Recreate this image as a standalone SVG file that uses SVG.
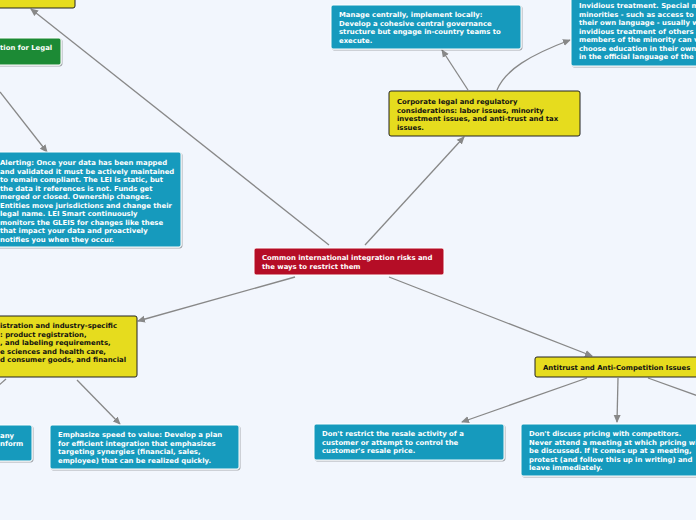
<svg xmlns="http://www.w3.org/2000/svg" width="696" height="520" viewBox="0 0 696 520">
<defs>
<marker id="ah" markerWidth="8" markerHeight="8" refX="7" refY="4" orient="auto" markerUnits="userSpaceOnUse"><path d="M0,0.5 L8,4 L0,7.5 Z" fill="#888"/></marker>
<filter id="sh" x="-5%" y="-5%" width="110%" height="120%"><feDropShadow dx="1" dy="1" stdDeviation="0.6" flood-color="#000" flood-opacity="0.3"/></filter>
</defs>
<style>
.bg{fill:#f2f6fd}
.blue{fill:#139abd;stroke:#fff;stroke-width:1;filter:url(#sh)}
.yel{fill:#e6dc1e;stroke:#222;stroke-width:1}
.grn{fill:#1e8a36;stroke:#fff;stroke-width:1;filter:url(#sh)}
.red{fill:#b50d26;stroke:#fff;stroke-width:1}
text{font-family:"DejaVu Sans",Verdana,sans-serif;font-weight:bold;font-size:6.9px}
.w{fill:#fff}.k{fill:#111}
.c{stroke:#888;stroke-width:1.3;fill:none;marker-end:url(#ah)}
.n{stroke:#888;stroke-width:1.3;fill:none}
</style>
<rect class="bg" width="696" height="520"/>
<g id="connectors">
<line class="c" x1="329" y1="245" x2="31" y2="9"/>
<line class="c" x1="0" y1="92" x2="47" y2="152"/>
<line class="c" x1="365" y1="245" x2="464" y2="137"/>
<line class="c" x1="468" y1="90" x2="442" y2="50"/>
<path class="c" d="M497,90 C505,70 530,55 570,40"/>
<line class="c" x1="295" y1="277" x2="138" y2="321"/>
<line class="n" x1="6" y1="379" x2="-2" y2="386"/>
<line class="c" x1="77" y1="380" x2="120" y2="424"/>
<line class="c" x1="389" y1="277" x2="592" y2="356"/>
<line class="c" x1="587" y1="378" x2="462" y2="422"/>
<line class="c" x1="618" y1="378" x2="617" y2="422"/>
<line class="n" x1="648" y1="378" x2="698" y2="396"/>
</g>
<g id="n-topleft"><rect class="yel" x="-10" y="-6" width="85" height="14" rx="2"/></g>
<g id="n-green"><rect class="grn" x="-10" y="38" width="71" height="27" rx="2"/><text class="w" x="0" y="50">tion for Legal</text></g>
<g id="n-alert"><rect class="blue" x="-10" y="152" width="191" height="95" rx="2"/>
<text class="w" x="0" y="165">Alerting: Once your data has been mapped</text>
<text class="w" x="0" y="173.5">and validated it must be actively maintained</text>
<text class="w" x="0" y="182">to remain compliant. The LEI is static, but</text>
<text class="w" x="0" y="190.5">the data it references is not. Funds get</text>
<text class="w" x="0" y="199">merged or closed. Ownership changes.</text>
<text class="w" x="0" y="207.5">Entities move jurisdictions and change their</text>
<text class="w" x="0" y="216">legal name. LEI Smart continuously</text>
<text class="w" x="0" y="224.5">monitors the GLEIS for changes like these</text>
<text class="w" x="0" y="233">that impact your data and proactively</text>
<text class="w" x="0" y="241.5">notifies you when they occur.</text></g>
<g id="n-center"><rect class="red" x="254" y="248" width="190" height="27" rx="2"/>
<text class="w" x="262" y="260">Common international integration risks and</text>
<text class="w" x="262" y="268.5">the ways to restrict them</text></g>
<g id="n-corp"><rect class="yel" x="389" y="91" width="191" height="45" rx="2"/>
<text class="k" x="397" y="104">Corporate legal and regulatory</text>
<text class="k" x="397" y="112.5">considerations: labor issues, minority</text>
<text class="k" x="397" y="121">investment issues, and anti-trust and tax</text>
<text class="k" x="397" y="129.5">issues.</text></g>
<g id="n-manage"><rect class="blue" x="331" y="5" width="190" height="44" rx="2"/>
<text class="w" x="339" y="17">Manage centrally, implement locally:</text>
<text class="w" x="339" y="25.5">Develop a cohesive central governance</text>
<text class="w" x="339" y="34">structure but engage in-country teams to</text>
<text class="w" x="339" y="42.5">execute.</text></g>
<g id="n-invid"><rect class="blue" x="571" y="-6" width="135" height="72" rx="2"/>
<text class="w" x="579" y="8">Invidious treatment. Special measures for</text>
<text class="w" x="579" y="16.5">minorities - such as access to education in</text>
<text class="w" x="579" y="25">their own language - usually will not be</text>
<text class="w" x="579" y="33.5">invidious treatment of others as long as</text>
<text class="w" x="579" y="42">members of the minority can voluntarily</text>
<text class="w" x="579" y="50.5">choose education in their own language or</text>
<text class="w" x="579" y="59">in the official language of the state.</text></g>
<g id="n-registration"><rect class="yel" x="-10" y="316" width="147" height="61" rx="2"/>
<text class="k" x="0" y="328">istration and industry-specific</text>
<text class="k" x="0" y="336.5">: product registration,</text>
<text class="k" x="0" y="345">, and labeling requirements,</text>
<text class="k" x="0" y="353.5">e sciences and health care,</text>
<text class="k" x="0" y="362">d consumer goods, and financial</text></g>
<g id="n-small"><rect class="blue" x="-10" y="425" width="42" height="36" rx="2"/>
<text class="w" x="0" y="437.5">any</text>
<text class="w" x="0" y="446">nform</text></g>
<g id="n-speed"><rect class="blue" x="50" y="425" width="189" height="44" rx="2"/>
<text class="w" x="58" y="437">Emphasize speed to value: Develop a plan</text>
<text class="w" x="58" y="445.5">for efficient integration that emphasizes</text>
<text class="w" x="58" y="454">targeting synergies (financial, sales,</text>
<text class="w" x="58" y="462.5">employee) that can be realized quickly.</text></g>
<g id="n-antitrust"><rect class="yel" x="535" y="357" width="170" height="20" rx="2"/>
<text class="k" x="543" y="369.5">Antitrust and Anti-Competition Issues</text></g>
<g id="n-resale"><rect class="blue" x="314" y="424" width="190" height="36" rx="2"/>
<text class="w" x="322" y="436">Don't restrict the resale activity of a</text>
<text class="w" x="322" y="444.5">customer or attempt to control the</text>
<text class="w" x="322" y="453">customer's resale price.</text></g>
<g id="n-pricing"><rect class="blue" x="521" y="424" width="185" height="52" rx="2"/>
<text class="w" x="529" y="436">Don't discuss pricing with competitors.</text>
<text class="w" x="529" y="444.5">Never attend a meeting at which pricing will</text>
<text class="w" x="529" y="453">be discussed. If it comes up at a meeting,</text>
<text class="w" x="529" y="461.5">protest (and follow this up in writing) and</text>
<text class="w" x="529" y="470">leave immediately.</text></g>
</svg>
